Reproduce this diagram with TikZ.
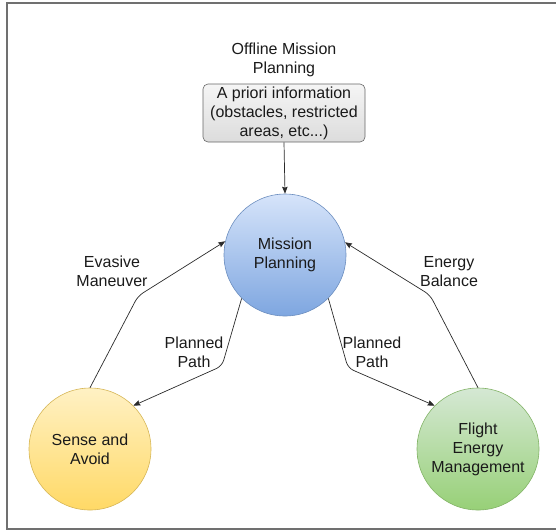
\documentclass[tikz,border=0pt]{standalone}
\usepackage{fontspec}
\setmainfont{Liberation Sans}
\usetikzlibrary{arrows.meta}
\definecolor{framegray}{HTML}{707070}
\definecolor{linkgray}{HTML}{2B2B2B}
\definecolor{inktext}{HTML}{1A1A1A}
\definecolor{blueTop}{HTML}{D6E4FA}
\definecolor{blueBot}{HTML}{7EA6E0}
\definecolor{blueLine}{HTML}{6C8EBF}
\definecolor{yelTop}{HTML}{FFF1C4}
\definecolor{yelBot}{HTML}{FFD966}
\definecolor{yelLine}{HTML}{D6B656}
\definecolor{grnTop}{HTML}{D5E8D4}
\definecolor{grnBot}{HTML}{97D077}
\definecolor{grnLine}{HTML}{82B366}
\definecolor{boxTop}{HTML}{F5F5F5}
\definecolor{boxBot}{HTML}{DCDCDC}
\definecolor{boxLine}{HTML}{666666}
\begin{document}
\begin{tikzpicture}[x=1pt,y=-1pt,
  txt/.style={font=\fontsize{16}{19}\selectfont, align=center, text=inktext, inner sep=0pt},
  blob/.style={circle, minimum size=122pt, inner sep=0pt, line width=0.6pt, txt},
  link/.style={draw=linkgray, line width=0.7pt, rounded corners=6pt,
               -{Stealth[length=7pt,width=5.5pt,inset=1pt]}}]
\useasboundingbox (0,0) rectangle (556,531);

% outer frame (right side runs off the page)
\draw[framegray, line width=1.6pt] (7,3) rectangle (562,529);

% offline planning block
\node[txt] (offline) at (284,59.5) {Offline Mission\\Planning};
\node[txt, draw=boxLine, line width=0.6pt, rounded corners=5pt,
      top color=boxTop, bottom color=boxBot,
      minimum width=162pt, minimum height=58pt] (apriori) at (284,113)
      {A priori information\\(obstacles, restricted\\areas, etc...)};

% the three modules
\node[blob, draw=blueLine, top color=blueTop, bottom color=blueBot] (mp) at (285,255) {Mission\\Planning};
\node[blob, draw=yelLine, top color=yelTop, bottom color=yelBot] (sa) at (90,449) {Sense and\\Avoid};
\node[blob, draw=grnLine, top color=grnTop, bottom color=grnBot] (fem) at (478,449) {Flight\\Energy\\Management};

% edge labels
\node[txt] (lblEvasive) at (112,271.5) {Evasive\\Maneuver};
\node[txt] (lblPathL) at (194,352.5) {Planned\\Path};
\node[txt] (lblPathR) at (372,352.5) {Planned\\Path};
\node[txt] (lblEnergy) at (449,271.5) {Energy\\Balance};

% connectors
\draw[link] (apriori.south) -- (mp.north);
\draw[link] (sa.north) -- (138,296) -- (mp.167);
\draw[link] (mp.225) -- (222,366) -- (sa.45);
\draw[link] (mp.315) -- (348,368) -- (fem.135);
\draw[link] (fem.north) -- (430,295) -- (mp.12);
\end{tikzpicture}
\end{document}
